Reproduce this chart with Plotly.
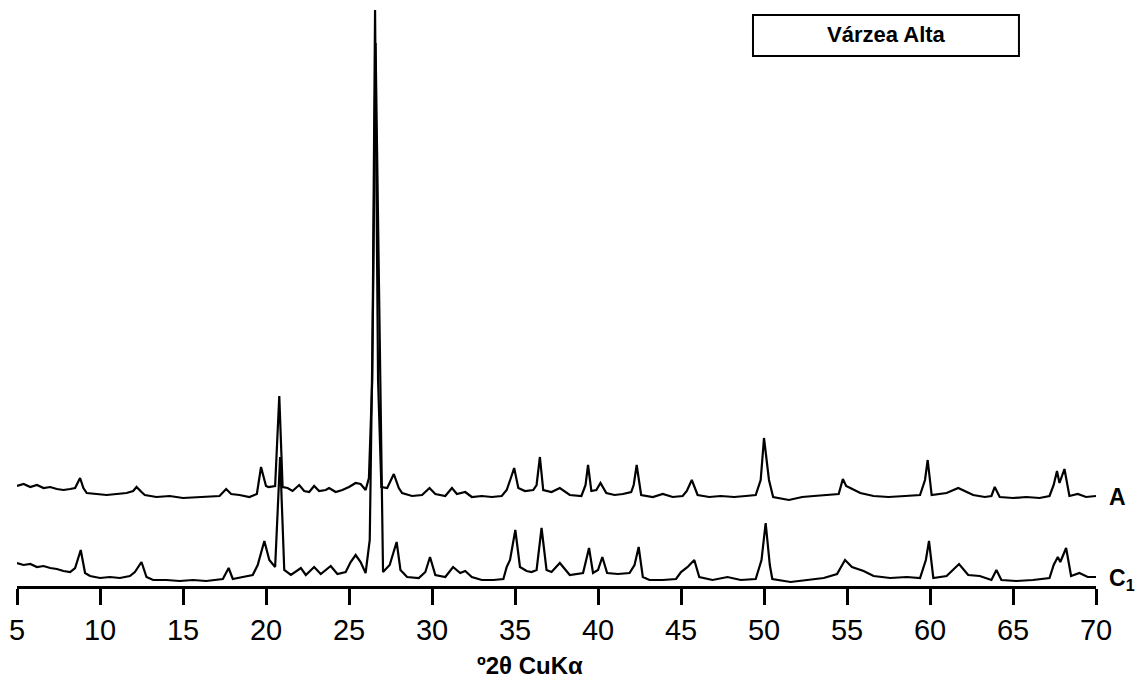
import plotly.graph_objects as go

# 2-theta (degrees) and relative intensity (a.u., stacked display)
two_theta_A = [5.0, 5.4, 5.8, 6.2, 6.6, 7.0, 7.4, 7.8, 8.2, 8.5,
               8.8, 9.0, 9.2, 9.8, 10.4, 11.0, 11.6, 12.0, 12.2, 12.5,
               12.7, 13.4, 14.2, 15.0, 15.8, 16.6, 17.2, 17.6, 17.9, 18.4,
               19.0, 19.45, 19.7, 20.0, 20.15, 20.55, 20.8, 21.0, 21.3, 21.6,
               22.0, 22.3, 22.6, 22.9, 23.2, 23.6, 23.8, 24.2, 24.6, 25.0,
               25.4, 25.7, 26.0, 26.2, 26.4, 26.57, 26.75, 26.95, 27.3, 27.7,
               28.0, 28.2, 28.8, 29.4, 29.85, 30.2, 30.8, 31.2, 31.5, 32.0,
               32.4, 33.0, 33.6, 34.2, 34.5, 34.75, 34.95, 35.2, 35.6, 36.1,
               36.3, 36.5, 36.7, 37.2, 37.7, 38.3, 39.0, 39.25, 39.4, 39.6,
               39.9, 40.15, 40.5, 41.0, 41.5, 42.0, 42.15, 42.33, 42.6, 43.3,
               43.9, 44.5, 45.1, 45.35, 45.65, 46.0, 46.7, 47.4, 48.2, 48.9,
               49.5, 49.8, 50.0, 50.3, 50.55, 51.5, 52.3, 53.0, 53.8, 54.5,
               54.75, 54.95, 55.2, 55.8, 56.6, 57.5, 58.5, 59.4, 59.7, 59.86,
               60.1, 60.6, 61.0, 61.7, 62.2, 62.6, 63.3, 63.7, 63.9, 64.2,
               65.0, 65.8, 66.6, 67.2, 67.45, 67.65, 67.8, 68.1, 68.4, 68.9,
               69.4, 70.0]
intensity_A = [100, 102, 99, 101, 98, 99, 97, 96, 97, 98,
               108, 98, 93, 92, 91, 92, 93, 95, 99, 94,
               91, 89, 90, 88, 89, 90, 90, 97, 92, 91,
               89, 92, 119, 100, 99, 100, 190, 99, 98, 95,
               101, 95, 94, 100, 95, 96, 98, 94, 96, 99,
               103, 102, 96, 108, 206, 576, 206, 99, 98, 112,
               98, 93, 90, 91, 98, 92, 90, 98, 92, 94,
               89, 90, 89, 90, 96, 108, 118, 98, 95, 96,
               101, 129, 96, 94, 98, 91, 90, 101, 121, 95,
               96, 103, 93, 91, 92, 94, 101, 121, 91, 89,
               92, 89, 90, 95, 106, 91, 89, 90, 89, 90,
               91, 106, 148, 106, 89, 86, 89, 90, 91, 92,
               107, 100, 98, 93, 90, 89, 90, 91, 106, 126,
               91, 92, 93, 98, 94, 91, 89, 90, 99, 89,
               88, 89, 88, 90, 101, 115, 103, 117, 90, 92,
               89, 90]

two_theta_C1 = [5.0, 5.4, 5.8, 6.2, 6.6, 7.0, 7.4, 7.8, 8.2, 8.5,
                8.84, 9.1, 9.4, 10.0, 10.6, 11.2, 11.8, 12.1, 12.5, 12.8,
                13.2, 14.0, 14.8, 15.6, 16.4, 17.4, 17.75, 18.0, 18.6, 19.2,
                19.5, 19.9, 20.2, 20.55, 20.85, 21.1, 21.5, 22.1, 22.4, 22.9,
                23.3, 23.9, 24.3, 24.8, 25.1, 25.4, 25.7, 26.0, 26.25, 26.45,
                26.6, 26.8, 27.05, 27.45, 27.87, 28.1, 28.5, 29.2, 29.6, 29.88,
                30.2, 30.8, 31.27, 31.7, 32.0, 32.4, 33.0, 33.7, 34.3, 34.5,
                34.7, 35.02, 35.3, 35.7, 36.0, 36.3, 36.6, 36.9, 37.2, 37.7,
                38.3, 39.1, 39.3, 39.46, 39.7, 40.0, 40.26, 40.55, 41.2, 41.9,
                42.2, 42.45, 42.7, 43.1, 43.9, 44.7, 45.0, 45.4, 45.8, 46.1,
                46.9, 47.8, 48.6, 49.5, 49.85, 50.1, 50.35, 50.5, 51.6, 52.6,
                53.6, 54.4, 54.88, 55.3, 56.0, 56.6, 57.6, 58.6, 59.4, 59.75,
                59.94, 60.2, 61.0, 61.75, 62.3, 63.0, 63.7, 64.0, 64.3, 65.2,
                66.2, 67.2, 67.45, 67.7, 67.85, 68.2, 68.5, 69.0, 69.5, 70.0]
intensity_C1 = [23, 21, 22, 19, 20, 18, 17, 15, 14, 18,
                36, 13, 10, 8, 9, 8, 10, 14, 24, 9,
                6, 6, 5, 6, 5, 7, 18, 7, 9, 11,
                21, 45, 26, 19, 129, 16, 11, 18, 11, 19,
                12, 20, 12, 14, 24, 31, 24, 13, 46, 286,
                543, 286, 14, 21, 44, 16, 9, 8, 14, 29,
                11, 9, 19, 13, 15, 9, 6, 6, 7, 19,
                26, 56, 19, 15, 14, 16, 58, 16, 14, 23,
                11, 13, 26, 38, 13, 16, 29, 13, 12, 13,
                21, 39, 9, 6, 6, 7, 14, 19, 26, 9,
                6, 9, 6, 7, 26, 63, 21, 7, 4, 6,
                8, 12, 26, 19, 15, 10, 8, 9, 8, 26,
                45, 8, 10, 22, 11, 10, 6, 16, 6, 5,
                6, 8, 21, 29, 24, 38, 10, 13, 9, 9]

tick_values = [5, 10, 15, 20, 25, 30, 35, 40, 45, 50, 55, 60, 65, 70]
sample_labels = ["A", "C<sub>1</sub>"]
site_name = "Várzea Alta"
x_title = "º2θ CuKα"

FONT = "Arial"

fig = go.Figure()
fig.add_trace(go.Scatter(x=two_theta_A, y=intensity_A, mode="lines",
                         line=dict(color="black", width=2.2), showlegend=False))
fig.add_trace(go.Scatter(x=two_theta_C1, y=intensity_C1, mode="lines",
                         line=dict(color="black", width=2.2), showlegend=False))

fig.update_layout(
    width=1139, height=678,
    margin=dict(l=17, r=43, t=0, b=92),
    paper_bgcolor="white", plot_bgcolor="white",
    font=dict(family=FONT, color="black"),
    xaxis=dict(range=[5, 70], tickvals=tick_values,
               ticktext=[str(v) for v in tick_values],
               ticks="outside",
               ticklen=16, tickwidth=3, tickcolor="black",
               showline=True, linewidth=3, linecolor="black",
               showgrid=False, zeroline=False,
               tickfont=dict(family=FONT, size=29, color="black")),
    yaxis=dict(range=[0, 586], visible=False),
)

# legend-like box
fig.add_shape(type="rect", xref="paper", yref="paper",
              x0=0.6821, x1=0.9286, y0=0.9044, y1=0.9744,
              line=dict(color="black", width=2), fillcolor="white")
fig.add_annotation(text="<b>" + site_name + "</b>", xref="paper", yref="paper",
                   x=0.8054, y=0.9403, xanchor="center", yanchor="middle",
                   showarrow=False,
                   font=dict(family=FONT, size=22, color="black"))

# axis title
fig.add_annotation(text="<b>" + x_title + "</b>", xref="paper", yref="paper",
                   x=0.4755, y=-0.135, showarrow=False,
                   xanchor="center", yanchor="middle",
                   font=dict(family=FONT, size=24, color="black"))

# sample labels
fig.add_annotation(text="<b>" + sample_labels[0] + "</b>", xref="paper", yref="paper",
                   x=1.0102, y=0.1519, xanchor="left", yanchor="middle", showarrow=False,
                   font=dict(family=FONT, size=23, color="black"))
fig.add_annotation(text="<b>" + sample_labels[1] + "</b>", xref="paper", yref="paper",
                   x=1.0102, y=0.0119, xanchor="left", yanchor="middle", showarrow=False,
                   font=dict(family=FONT, size=23, color="black"))

fig.write_html("out.html")
